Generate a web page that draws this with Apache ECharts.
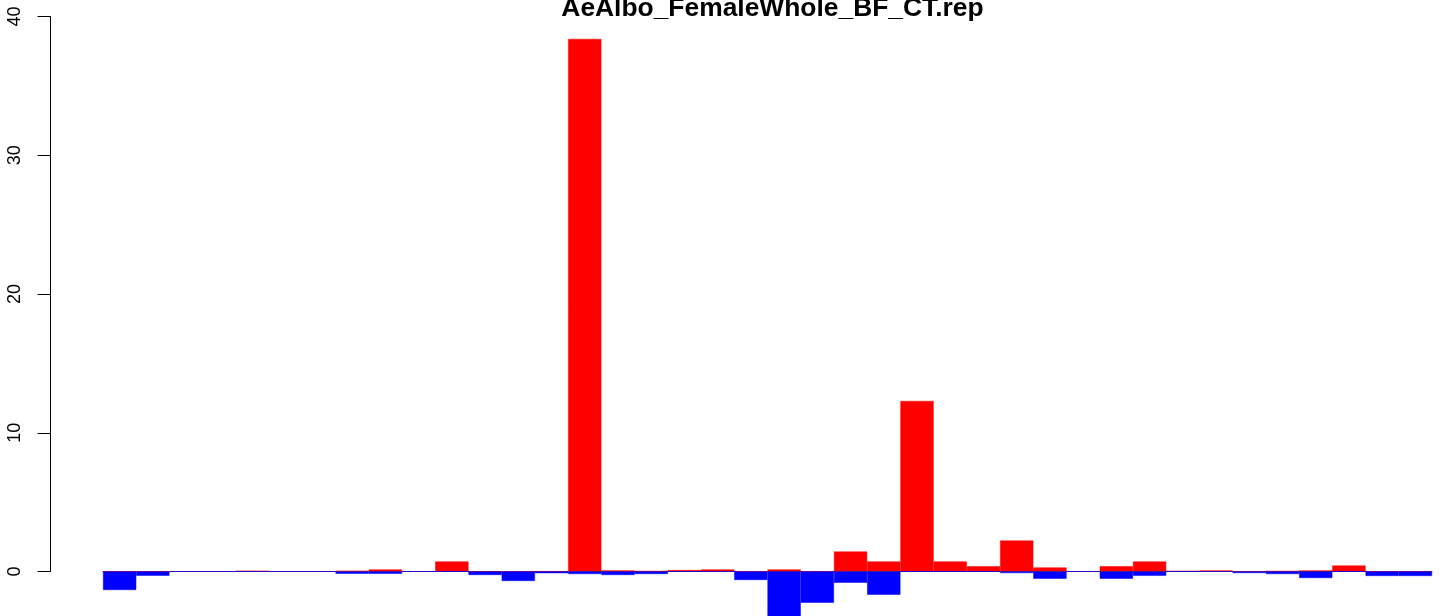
<!DOCTYPE html>
<html>
<head>
<meta charset="utf-8">
<script src="https://cdn.jsdelivr.net/npm/echarts@6/dist/echarts.min.js"></script>
<style>
html,body{margin:0;padding:0;background:#fff;}
#c{width:1444px;height:616px;}
</style>
</head>
<body>
<div id="c"></div>
<script>
const titleText = 'AeAlbo_FemaleWhole_BF_CT.rep';
const categories = ['1','2','3','4','5','6','7','8','9','10','11','12','13','14','15','16','17','18','19','20',
  '21','22','23','24','25','26','27','28','29','30','31','32','33','34','35','36','37','38','39','40'];
const upValues = [0, 0, 0, 0, 0.05, 0, 0, 0.05, 0.15, 0,
  0.72, 0, 0, 0, 38.38, 0.08, 0.03, 0.1, 0.15, 0,
  0.15, 0, 1.44, 0.72, 12.29, 0.72, 0.38, 2.23, 0.29, 0,
  0.38, 0.72, 0.04, 0.08, 0, 0.03, 0.08, 0.43, 0, 0];
const downValues = [-1.33, -0.3, 0, 0, 0, 0, 0, -0.16, -0.16, 0,
  0, -0.25, -0.68, -0.12, -0.18, -0.25, -0.18, 0, 0, -0.61,
  -3.5, -2.25, -0.81, -1.67, 0, 0, 0, -0.11, -0.52, 0,
  -0.52, -0.31, 0, 0, -0.11, -0.18, -0.47, 0, -0.32, -0.32];
const yTicks = [0, 10, 20, 30, 40];

// Plot geometry: 0 at y=571.5, 40 at y=16.5; bars region continues to bottom edge of picture
const axisTop = 16.5, axisHeight = 555, pageH = 616;
const yMax = yTicks[yTicks.length - 1];
const barsMin = -yMax * (pageH - axisTop - axisHeight) / axisHeight;

const font = 'Liberation Sans, Arial, Helvetica, sans-serif';
const chart = echarts.init(document.getElementById('c'), null, {renderer: 'canvas'});
chart.setOption({
  animation: false,
  backgroundColor: '#ffffff',
  title: {
    text: titleText,
    left: 767.5,
    textAlign: 'center',
    top: -9,
    textStyle: {fontFamily: font, fontSize: 26.4, fontWeight: 'bold', color: '#000', lineHeight: 26}
  },
  grid: [
    {left: 50.5, top: axisTop, width: 1, height: axisHeight},
    {left: 103, right: 12, top: axisTop, bottom: 0}
  ],
  xAxis: [
    {type: 'category', gridIndex: 0, data: ['a'], show: false},
    {type: 'category', gridIndex: 1, data: categories, boundaryGap: true,
     axisLine: {show: true, onZero: true, lineStyle: {color: '#555555', width: 1}},
     axisTick: {show: false}, axisLabel: {show: false}, splitLine: {show: false}}
  ],
  yAxis: [
    {type: 'value', gridIndex: 0, min: yTicks[0], max: yMax, interval: 10,
     axisLine: {show: true, lineStyle: {color: '#000', width: 1}},
     axisTick: {show: true, length: 13, lineStyle: {color: '#000', width: 1}},
     axisLabel: {show: true, rotate: 90, margin: 26, fontFamily: font, fontSize: 18, color: '#000'},
     splitLine: {show: false}},
    {type: 'value', gridIndex: 1, min: barsMin, max: yMax, show: false, splitLine: {show: false}}
  ],
  series: [
    {type: 'bar', xAxisIndex: 1, yAxisIndex: 1, data: upValues, barGap: '-100%', barCategoryGap: '0%',
     clip: true, itemStyle: {color: '#ff0000', borderColor: '#ff0000', borderWidth: 0.5}},
    {type: 'bar', xAxisIndex: 1, yAxisIndex: 1, data: downValues, barGap: '-100%', barCategoryGap: '0%',
     clip: true, itemStyle: {color: '#0000ff', borderColor: '#0000ff', borderWidth: 0.5}}
  ]
});
</script>
</body>
</html>
